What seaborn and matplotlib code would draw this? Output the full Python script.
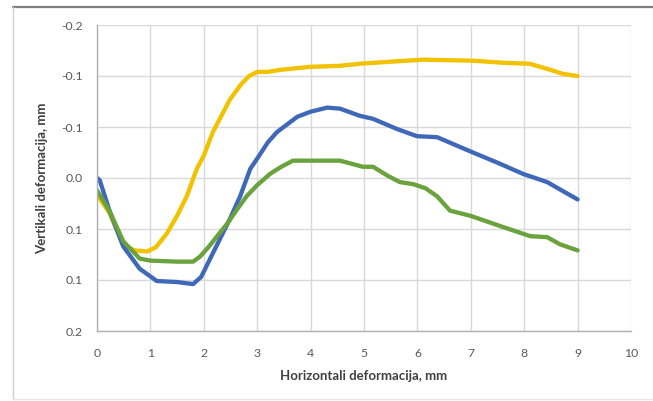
import numpy as np
import pandas as pd
import matplotlib
matplotlib.use("Agg")
import matplotlib.pyplot as plt
from matplotlib.lines import Line2D
import seaborn as sns

# Measured profiles: horizontal position (mm) and vertical deformation (mm)
x_yellow = [0.0, 0.24, 0.49, 0.7, 0.94, 1.1, 1.3, 1.5, 1.68, 1.87, 2.0, 2.17, 2.3, 2.49,
            2.7, 2.85, 3.0, 3.2, 3.43, 3.99, 4.55, 4.92, 5.49, 6.1, 7.04, 7.6, 8.1, 8.43,
            8.73, 9.0]
y_yellow = [0.016, 0.035, 0.065, 0.071, 0.072, 0.068, 0.055, 0.037, 0.018, -0.009, -0.022,
            -0.045, -0.058, -0.077, -0.092, -0.100, -0.104, -0.104, -0.106, -0.109, -0.110,
            -0.112, -0.114, -0.116, -0.115, -0.113, -0.112, -0.107, -0.102, -0.100]

x_blue = [0.0, 0.05, 0.24, 0.49, 0.8, 1.12, 1.5, 1.8, 1.95, 2.12, 2.3, 2.49, 2.68, 2.87,
          3.0, 3.2, 3.37, 3.75, 4.0, 4.31, 4.55, 4.92, 5.17, 5.62, 5.99, 6.37, 7.04, 7.5,
          7.98, 8.43, 8.73, 9.0]
y_blue = [0.000, 0.002, 0.033, 0.067, 0.089, 0.101, 0.102, 0.104, 0.097, 0.079, 0.060,
          0.040, 0.018, -0.009, -0.019, -0.035, -0.045, -0.060, -0.065, -0.069, -0.068,
          -0.061, -0.058, -0.048, -0.041, -0.040, -0.025, -0.015, -0.004, 0.004, 0.013,
          0.021]

x_green = [0.0, 0.24, 0.49, 0.8, 1.0, 1.5, 1.8, 1.93, 2.1, 2.25, 2.45, 2.62, 2.8, 3.0,
           3.24, 3.45, 3.67, 4.1, 4.55, 4.98, 5.17, 5.45, 5.67, 5.92, 6.15, 6.37, 6.61,
           6.99, 7.6, 8.11, 8.43, 8.67, 9.0]
y_green = [0.012, 0.033, 0.062, 0.079, 0.081, 0.082, 0.082, 0.077, 0.067, 0.057, 0.044,
           0.031, 0.018, 0.007, -0.004, -0.011, -0.017, -0.017, -0.017, -0.011, -0.011,
           -0.002, 0.004, 0.006, 0.010, 0.018, 0.032, 0.037, 0.048, 0.057, 0.058, 0.065,
           0.071]

series_names = ["Serija 1", "Serija 2", "Serija 3"]
series_colors = ["#F2C200", "#4068B8", "#6AA23E"]

x_ticks = [0, 1, 2, 3, 4, 5, 6, 7, 8, 9, 10]
y_ticks = [-0.15, -0.10, -0.05, 0.00, 0.05, 0.10, 0.15]
y_tick_labels = ["-0.2", "-0.1", "-0.1", "0.0", "0.1", "0.1", "0.2"]

x_title = "Horizontali deformacija, mm"
y_title = "Vertikali deformacija, mm"

frames = []
for name, xs, ys in zip(series_names, [x_yellow, x_blue, x_green],
                        [y_yellow, y_blue, y_green]):
    frames.append(pd.DataFrame({"x": xs, "y": ys, "serija": name}))
df = pd.concat(frames, ignore_index=True)

sns.set_theme(style="white")
plt.rcParams["font.family"] = ["Lato", "DejaVu Sans"]

W, H = 653, 401
fig = plt.figure(figsize=(W / 100, H / 100), dpi=100)
ax = fig.add_axes([97 / W, 1 - 331 / H, (631 - 97) / W, (331 - 25) / H])

sns.lineplot(data=df, x="x", y="y", hue="serija", palette=series_colors,
             hue_order=series_names, sort=False, estimator=None,
             linewidth=3.1, legend=False, ax=ax,
             solid_joinstyle="round", solid_capstyle="round")

ax.set_xlim(0, 10)
ax.set_ylim(0.15, -0.15)
ax.set_xticks(x_ticks)
ax.set_xticklabels([str(t) for t in x_ticks])
ax.set_yticks(y_ticks)
ax.set_yticklabels(y_tick_labels)

ax.grid(True, color="#d9d9d9", linewidth=1.0)
ax.set_axisbelow(True)
for side in ["top", "right"]:
    ax.spines[side].set_visible(False)
for side in ["left", "bottom"]:
    ax.spines[side].set_color("#b0b0b0")
    ax.spines[side].set_linewidth(1.0)

ax.tick_params(axis="both", length=0, labelsize=8.8, labelcolor="#595959")
ax.tick_params(axis="y", pad=10)
ax.tick_params(axis="x", pad=12)

ax.set_xlabel(x_title, fontsize=9.5, fontweight="bold", color="#404040", labelpad=8)
ax.set_ylabel(y_title, fontsize=9.5, fontweight="bold", color="#404040", labelpad=10)

# Outer chart frame
fig.add_artist(Line2D([13 / W, 1.0], [1 - 7 / H, 1 - 7 / H], transform=fig.transFigure,
                      color="#7f7f7f", linewidth=1.6))
fig.add_artist(Line2D([13 / W, 13 / W], [1 - 7 / H, 1 - 399 / H], transform=fig.transFigure,
                      color="#d0d0d0", linewidth=1.0))
fig.add_artist(Line2D([13 / W, 1.0], [1 - 399 / H, 1 - 399 / H], transform=fig.transFigure,
                      color="#e6e6e6", linewidth=1.0))

fig.savefig("out.png", dpi=100)
